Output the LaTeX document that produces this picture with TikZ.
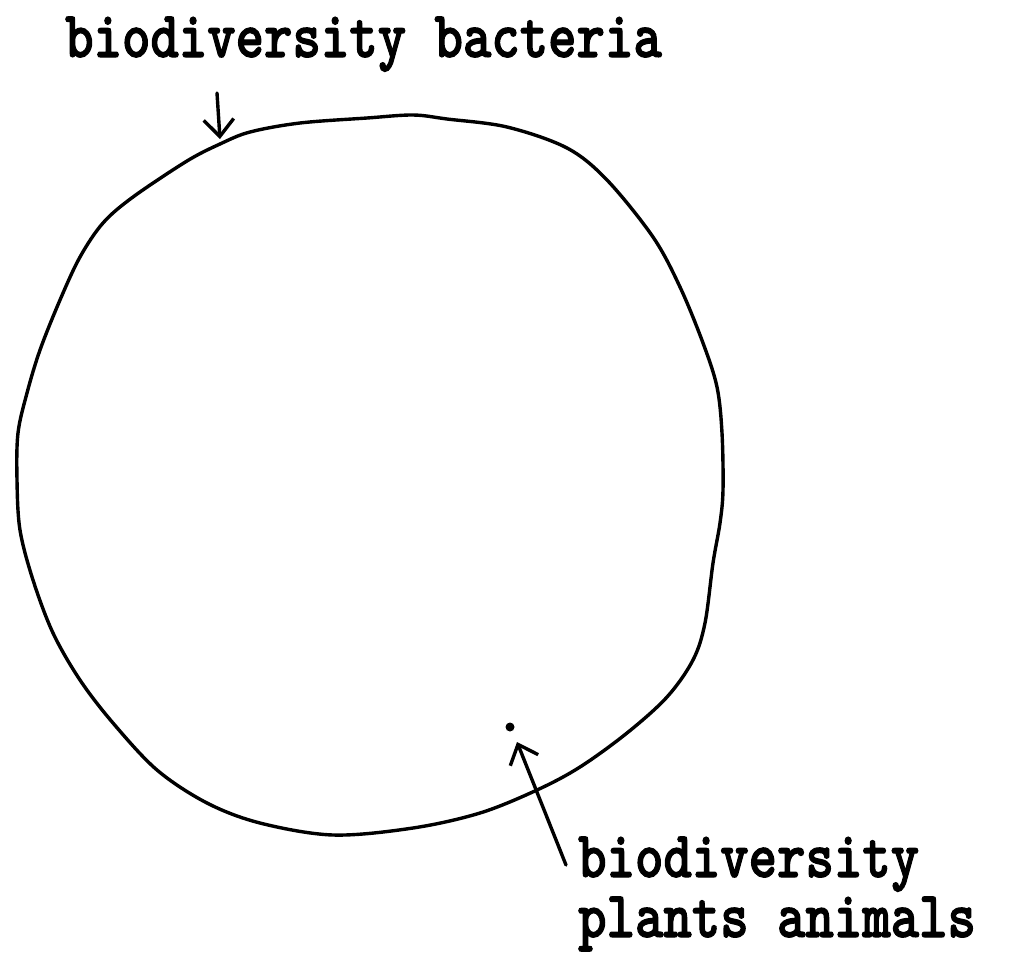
\documentclass[tikz,border=0pt]{standalone}
\usepackage{fontspec}
\newfontfamily\twfont{lmmonolt10-bold.otf}[FakeStretch=0.82,FakeBold=1.6]
\usetikzlibrary{arrows.meta}
\tikzset{
  outline/.style={line width=3.4pt, line join=round, line cap=round},
  pointer/.style={line width=3.4pt, line cap=round, line join=round, -{Straight Barb[length=17pt,width=30pt,line width=3.4pt]}},
  label/.style={inner sep=0pt, font=\fontsize{66}{60}\selectfont\twfont},
}
\begin{document}
\begin{tikzpicture}[x=1pt,y=-1pt]
\useasboundingbox (0,0) rectangle (1012,959);
% hand-drawn circle
\draw[outline] plot[smooth cycle, tension=0.55] coordinates {
 (413,115) (447,119) (507,127) (567,148) (607,180) (653,237) (680,287) (703,343)
 (717,387) (722,433) (723,490) (720,523) (713,563) (705,623) (693,660) (667,697)
 (627,733) (580,767) (537,790) (480,813) (413,828) (333,835) (260,823) (207,803)
 (157,770) (113,723) (80,680) (53,633) (33,580) (20,530) (17,480) (18,433)
 (27,393) (40,350) (60,300) (80,257) (103,223) (133,197) (187,161)
 (220,144) (250,132) (300,123) (367,118)};
% dot
\fill (510,727) circle (4.5);
% labels
\node[label, anchor=base west] (top) at (65,57) {biodiversity bacteria};
\node[label, anchor=base west] (bot) at (578,877)
  {\vtop{\hbox{biodiversity}\hbox{plants animals}}};
% arrows
\coordinate (a1s) at (217,93);
\coordinate (a1e) at (220,139);
\coordinate (a2s) at (566,865);
\coordinate (a2e) at (517,742);
\draw[pointer] (a1s) -- (a1e);
\draw[pointer] (a2s) -- (a2e);
\end{tikzpicture}
\end{document}
